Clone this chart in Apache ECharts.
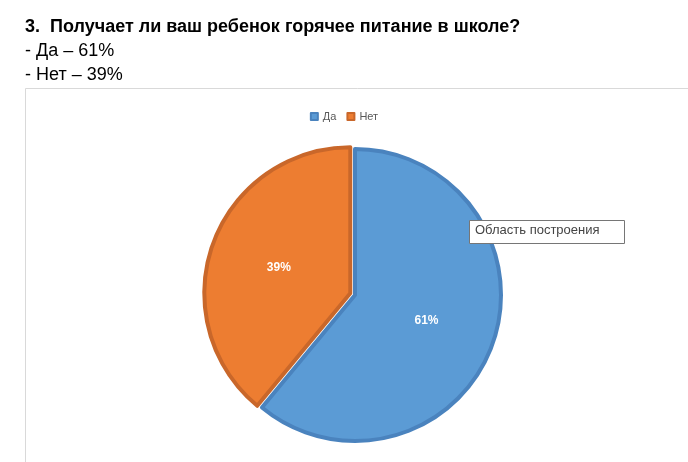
<!DOCTYPE html>
<html><head><meta charset="utf-8">
<script src="https://cdn.jsdelivr.net/npm/echarts@6/dist/echarts.min.js"></script>
<style>html,body{margin:0;padding:0;background:#fff}#c{width:688px;height:462px}</style>
</head><body><div id="c"></div>
<script>
const categories = ['Да', 'Нет'];
const values = [61, 39];
const colors = ['#5B9BD5', '#ED7D31'];
const borders = ['#4A83BE', '#C9672A'];
const titleLines = ['3.  Получает ли ваш ребенок горячее питание в школе?', '- Да – 61%', '- Нет – 39%'];

const chart = echarts.init(document.getElementById('c'));
chart.setOption({
  animation: false,
  graphic: [
    {type:'rect', shape:{x:25.5,y:88.5,width:700,height:400}, style:{fill:'#fff',stroke:'#D9D9D9',lineWidth:1}, z:-1},
    {type:'text', left:25, top:18, style:{text:titleLines[0], font:'bold 18px Arial', fill:'#000'}},
    {type:'text', left:25, top:42, style:{text:titleLines[1], font:'18px Arial', fill:'#000'}},
    {type:'text', left:25, top:66, style:{text:titleLines[2], font:'18px Arial', fill:'#000'}},
    {type:'rect', shape:{x:469.5,y:220.5,width:155,height:23}, style:{fill:'#fff',stroke:'#767676',lineWidth:1}, z:100},
    {type:'text', left:475, top:224, style:{text:'Область построения', font:'13px Arial', fill:'#444'}, z:101}
  ],
  legend: {
    data: categories, top: 106, left: 'center', itemWidth: 7, itemHeight: 7, itemGap: 10,
    icon: 'rect', textStyle: {fontSize: 11, color: '#595959', fontFamily: 'Arial'}
  },
  series: [{
    type: 'pie', center: [355, 295], radius: 146, startAngle: 90, clockwise: true,
    selectedMode: 'single', selectedOffset: 5,
    label: {position: 'inside', formatter: '{d}%', color: '#fff', fontWeight: 'bold', fontSize: 12, fontFamily: 'Arial'},
    labelLine: {show: false},
    data: categories.map((n, i) => ({
      name: n, value: values[i], selected: i === 1,
      itemStyle: {color: colors[i], borderColor: borders[i], borderWidth: 4},
      label: i === 0 ? {position:'inside'} : {}
    }))
  }]
});
</script></body></html>
